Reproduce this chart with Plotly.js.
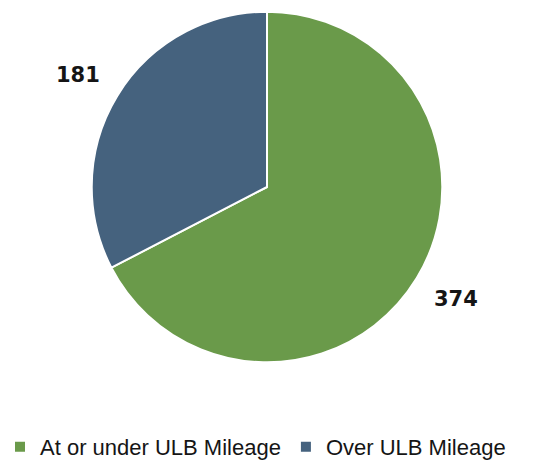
<!DOCTYPE html>
<html>
<head>
<meta charset="utf-8">
<script src="https://cdn.plot.ly/plotly-3.0.1.min.js"></script>
<style>html,body{margin:0;padding:0;background:#fff;}#chart{width:533px;height:468px;}</style>
</head>
<body>
<div id="chart"></div>
<script>
var categories = ["At or under ULB Mileage", "Over ULB Mileage"];
var values = [374, 181];
var colors = ["#6a9a4a", "#45627e"];

var W = 533, H = 468;
var dom = {x: [88 / W, 446 / W], y: [97 / H, 456 / H]};

// label placement from the slice mid-angles
var total = values.reduce(function (a, b) { return a + b; }, 0);
var cxPx = (dom.x[0] + dom.x[1]) / 2 * W;
var cyPx = (dom.y[0] + dom.y[1]) / 2 * H; // from bottom
var R = Math.min((dom.x[1] - dom.x[0]) * W, (dom.y[1] - dom.y[0]) * H) / 2;
var rL = R * 1.235;
var annotations = [];
var cum = 0;
values.forEach(function (v, i) {
  var mid = (cum + v / 2) / total * 2 * Math.PI;
  cum += v;
  annotations.push({
    xref: "paper", yref: "paper",
    x: (cxPx + rL * Math.sin(mid)) / W,
    y: (cyPx + rL * Math.cos(mid)) / H,
    text: "<b>" + v + "</b>",
    showarrow: false,
    xanchor: "center", yanchor: "middle",
    font: {family: "DejaVu Sans", size: 21, color: "#151515"}
  });
});

var data = [{
  type: "pie",
  labels: categories,
  values: values,
  sort: false,
  direction: "clockwise",
  rotation: 0,
  textinfo: "none",
  marker: {colors: colors, line: {color: "#ffffff", width: 2}},
  domain: dom,
  hoverinfo: "label+value"
}];

var layout = {
  width: W, height: H,
  margin: {l: 0, r: 0, t: 0, b: 0},
  paper_bgcolor: "#ffffff",
  showlegend: true,
  legend: {
    orientation: "h",
    x: 0, xanchor: "left",
    y: 0.022, yanchor: "middle",
    font: {family: "Liberation Sans", size: 22, color: "#151515"},
    itemwidth: 30
  },
  annotations: annotations
};

Plotly.newPlot("chart", data, layout, {displayModeBar: false, staticPlot: true});
</script>
</body>
</html>
